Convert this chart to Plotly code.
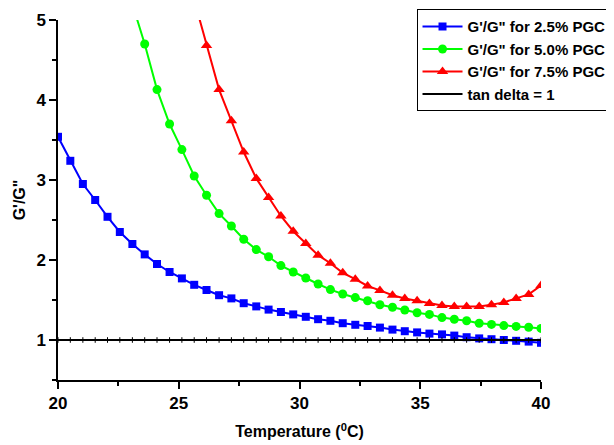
import plotly.graph_objects as go

# Temperature (°C) sample points
temperature = [20.00, 20.51, 21.03, 21.54, 22.05, 22.56, 23.08, 23.59, 24.10, 24.62,
               25.13, 25.64, 26.15, 26.67, 27.18, 27.69, 28.21, 28.72, 29.23, 29.74,
               30.26, 30.77, 31.28, 31.79, 32.31, 32.82, 33.33, 33.85, 34.36, 34.87,
               35.38, 35.90, 36.41, 36.92, 37.44, 37.95, 38.46, 38.97, 39.49, 40.00]

ratio_25 = [3.54, 3.24, 2.95, 2.75, 2.54, 2.35, 2.20, 2.07, 1.95, 1.85,
            1.77, 1.69, 1.625, 1.56, 1.52, 1.46, 1.42, 1.38, 1.35, 1.32,
            1.29, 1.26, 1.24, 1.21, 1.19, 1.175, 1.155, 1.13, 1.11, 1.095,
            1.08, 1.07, 1.055, 1.035, 1.02, 1.01, 1.00, 0.99, 0.98, 0.965]

ratio_50 = [None, None, None, None, None, None, 5.20, 4.70, 4.13, 3.70,
            3.38, 3.05, 2.81, 2.58, 2.425, 2.26, 2.13, 2.04, 1.93, 1.85,
            1.775, 1.70, 1.63, 1.575, 1.53, 1.49, 1.44, 1.41, 1.375, 1.34,
            1.32, 1.28, 1.26, 1.24, 1.21, 1.195, 1.18, 1.17, 1.16, 1.145]

ratio_75 = [None, None, None, None, None, None, None, None, None, None,
            None, 5.25, 4.68, 4.13, 3.74, 3.35, 3.02, 2.78, 2.55, 2.36,
            2.205, 2.06, 1.96, 1.84, 1.76, 1.675, 1.62, 1.56, 1.52, 1.49,
            1.455, 1.43, 1.42, 1.42, 1.42, 1.44, 1.47, 1.52, 1.57, 1.68]

tan_delta = [1.0] * len(temperature)

series_names = ["G'/G\" for 2.5% PGC", "G'/G\" for 5.0% PGC",
                "G'/G\" for 7.5% PGC", "tan delta = 1"]

FONT = "Liberation Sans, Arial, sans-serif"

fig = go.Figure()
fig.add_trace(go.Scatter(x=temperature, y=ratio_25, name=series_names[0],
                         mode="lines+markers",
                         line=dict(color="#0000FF", width=2),
                         marker=dict(symbol="square", size=8, color="#0000FF")))
fig.add_trace(go.Scatter(x=temperature, y=ratio_50, name=series_names[1],
                         mode="lines+markers",
                         line=dict(color="#00FF00", width=2),
                         marker=dict(symbol="circle", size=9, color="#00FF00")))
fig.add_trace(go.Scatter(x=temperature, y=ratio_75, name=series_names[2],
                         mode="lines+markers",
                         line=dict(color="#FF0000", width=2),
                         marker=dict(symbol="triangle-up", size=10, color="#FF0000")))
fig.add_trace(go.Scatter(x=temperature, y=tan_delta, name=series_names[3],
                         mode="lines",
                         line=dict(color="#000000", width=2)))
fig.add_trace(go.Scatter(x=temperature, y=tan_delta, showlegend=False,
                         mode="markers", hoverinfo="skip",
                         marker=dict(symbol="line-ns-open", size=4, color="#000000",
                                     line=dict(color="#000000", width=1))))

fig.update_layout(
    width=606, height=437,
    margin=dict(l=50, r=73, t=12, b=65, autoexpand=False),
    paper_bgcolor="white", plot_bgcolor="white",
    font=dict(family=FONT, color="black"),
    showlegend=True,
    legend=dict(x=1.146, y=1.03, xanchor="right", yanchor="top",
                bordercolor="black", borderwidth=1, bgcolor="white",
                font=dict(family=FONT, size=15, color="black", weight="bold"),
                tracegroupgap=0, itemwidth=40),
    xaxis=dict(range=[20, 40], dtick=5, tick0=20, automargin=False,
               showline=True, linecolor="black", linewidth=1.5,
               ticks="outside", ticklen=7, tickwidth=1.5, tickcolor="black",
               minor=dict(dtick=2.5, ticks="outside", ticklen=4, tickwidth=1.5,
                          tickcolor="black", showgrid=False),
               showgrid=False, zeroline=False,
               tickfont=dict(family=FONT, size=17, color="black", weight="bold"),
               title=dict(text="Temperature (<sup>0</sup>C)", standoff=14,
                          font=dict(family=FONT, size=16, color="black", weight="bold"))),
    yaxis=dict(range=[0.5, 5], dtick=1, tick0=0, automargin=False,
               showline=True, linecolor="black", linewidth=1.5,
               ticks="outside", ticklen=7, tickwidth=1.5, tickcolor="black",
               minor=dict(dtick=0.5, ticks="outside", ticklen=4, tickwidth=1.5,
                          tickcolor="black", showgrid=False),
               showgrid=False, zeroline=False,
               tickfont=dict(family=FONT, size=17, color="black", weight="bold"),
               title=dict(text="G'/G\"", standoff=7,
                          font=dict(family=FONT, size=16, color="black", weight="bold"))),
)

fig.write_html("out.html")
